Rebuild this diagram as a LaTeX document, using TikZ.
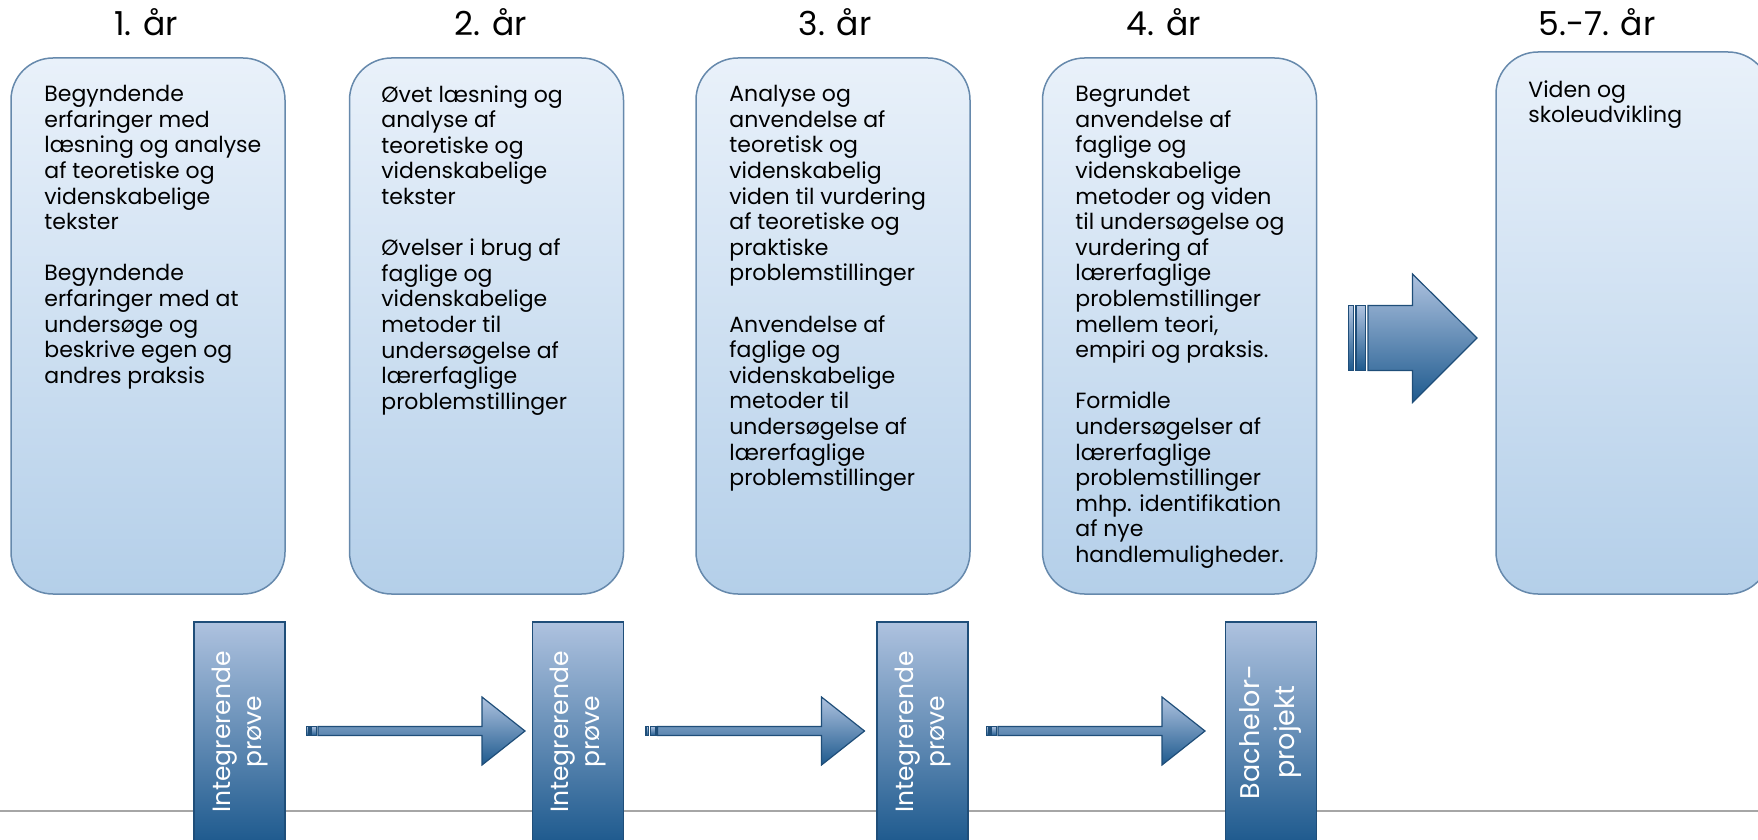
\documentclass[tikz,border=0pt]{standalone}
\usepackage{fontspec}
\setmainfont{Poppins}
\usetikzlibrary{positioning}

\definecolor{boksTop}{HTML}{E9F1FA}
\definecolor{boksBund}{HTML}{B4CFE9}
\definecolor{boksKant}{HTML}{6689AC}
\definecolor{proeveTop}{HTML}{AEC2DF}
\definecolor{proeveBund}{HTML}{1E5A8E}
\definecolor{moerkBlaa}{HTML}{1F4E79}
\definecolor{linjeGraa}{HTML}{A6A6A6}

\begin{document}
\begin{tikzpicture}[x=0.5pt, y=-0.5pt,
	aar/.style={anchor=base, font=\fontsize{16.5}{18}\selectfont},
	boks/.style={draw=boksKant, line width=0.75pt, rounded corners=21pt, top color=boksTop, bottom color=boksBund, minimum width=137pt, minimum height=268pt, inner sep=0pt},
	tekst/.style={anchor=north west, align=left, inner sep=0pt, font=\fontsize{11}{12.8}\selectfont},
	proeve/.style={draw=moerkBlaa, line width=0.6pt, top color=proeveTop, bottom color=proeveBund, minimum width=45.5pt, minimum height=110pt, inner sep=0pt},
	proevetekst/.style={rotate=90, align=center, text=white, inner sep=0pt, font=\fontsize{12.5}{15.5}\selectfont},
	pil/.style={draw=moerkBlaa, line width=0.6pt, top color=proeveTop, bottom color=proeveBund},
	linje/.style={draw=linjeGraa, line width=1pt}]
		\useasboundingbox (0,0) rectangle (1758,840);
		\clip (0,0) rectangle (1758,840);
		%
		%Linje
		\draw[linje] (0,811) -- (1758,811);
		%
		%1. aar
		\node[aar] (aar1) at (146,36) {1. år};
		\node[boks] (boks1) at (148,326) {};
		\node[tekst] (tekst1) at (44,85) {Begyndende\\erfaringer med\\læsning og analyse\\af teoretiske og\\videnskabelige\\tekster\\[12.8pt]Begyndende\\erfaringer med at\\undersøge og\\beskrive egen og\\andres praksis};
		\node[proeve] (proeve1) at (239.5,732) {};
		\node[proevetekst] (ptekst1) at (proeve1) {Integrerende\\prøve};
		%
		%2. aar
		\node[aar] (aar2) at (491,36) {2. år};
		\node[boks] (boks2) at (486.5,326) {};
		\node[tekst] (tekst2) at (381,85) {Øvet læsning og\\analyse af\\teoretiske og\\videnskabelige\\tekster\\[12.8pt]Øvelser i brug af\\faglige og\\videnskabelige\\metoder til\\undersøgelse af\\lærerfaglige\\problemstillinger};
		\node[proeve] (proeve2) at (578,732) {};
		\node[proevetekst] (ptekst2) at (proeve2) {Integrerende\\prøve};
		%
		%3. aar
		\node[aar] (aar3) at (835,36) {3. år};
		\node[boks] (boks3) at (833,326) {};
		\node[tekst] (tekst3) at (729,85) {Analyse og\\anvendelse af\\teoretisk og\\videnskabelig\\viden til vurdering\\af teoretiske og\\praktiske\\problemstillinger\\[12.8pt]Anvendelse af\\faglige og\\videnskabelige\\metoder til\\undersøgelse af\\lærerfaglige\\problemstillinger};
		\node[proeve] (proeve3) at (922.5,732) {};
		\node[proevetekst] (ptekst3) at (proeve3) {Integrerende\\prøve};
		%
		%4. aar
		\node[aar] (aar4) at (1164,36) {4. år};
		\node[boks] (boks4) at (1179.5,326) {};
		\node[tekst] (tekst4) at (1075,85) {Begrundet\\anvendelse af\\faglige og\\videnskabelige\\metoder og viden\\til undersøgelse og\\vurdering af\\lærerfaglige\\problemstillinger\\mellem teori,\\empiri og praksis.\\[12.8pt]Formidle\\undersøgelser af\\lærerfaglige\\problemstillinger\\mhp. identifikation\\af nye\\handlemuligheder.};
		\node[proeve] (proeve4) at (1271,732) {};
		\node[proevetekst, font=\fontsize{13.5}{17.5}\selectfont] (ptekst4) at (proeve4) {Bachelor-\\projekt};
		%
		%5.-7. aar
		\node[aar] (aar5) at (1597,36) {5.-7. år};
		\node[boks, minimum height=271pt] (boks5) at (1633,323) {};
		\node[tekst] (tekst5) at (1528,80) {Viden og\\skoleudvikling};
		%
		%Pile mellem proeverne
		\coordinate (pil1) at (318,731);
		\coordinate (pil2) at (657.5,731);
		\coordinate (pil3) at (998,731);
		\foreach \p in {pil1,pil2,pil3}{
			\draw[pil] (\p) +(0,-4.5) -- +(164,-4.5) -- +(164,-34) -- +(207,0) -- +(164,34) -- +(164,4.5) -- +(0,4.5) -- cycle;
			\draw[pil] (\p) +(-11.5,-4.5) rectangle +(-9,4.5);
			\draw[pil] (\p) +(-7,-4.5) rectangle +(-1.5,4.5);
		}
		%
		%Stor pil
		\coordinate (storpil) at (1368,338);
		\draw[pil] (storpil) +(0,-32.5) -- +(44.5,-32.5) -- +(44.5,-64) -- +(109,0) -- +(44.5,64.5) -- +(44.5,32.5) -- +(0,32.5) -- cycle;
		\draw[pil] (storpil) +(-19.7,-32.5) rectangle +(-14.7,32.5);
		\draw[pil] (storpil) +(-12,-32.5) rectangle +(-2.7,32.5);
	\end{tikzpicture}
\end{document}
